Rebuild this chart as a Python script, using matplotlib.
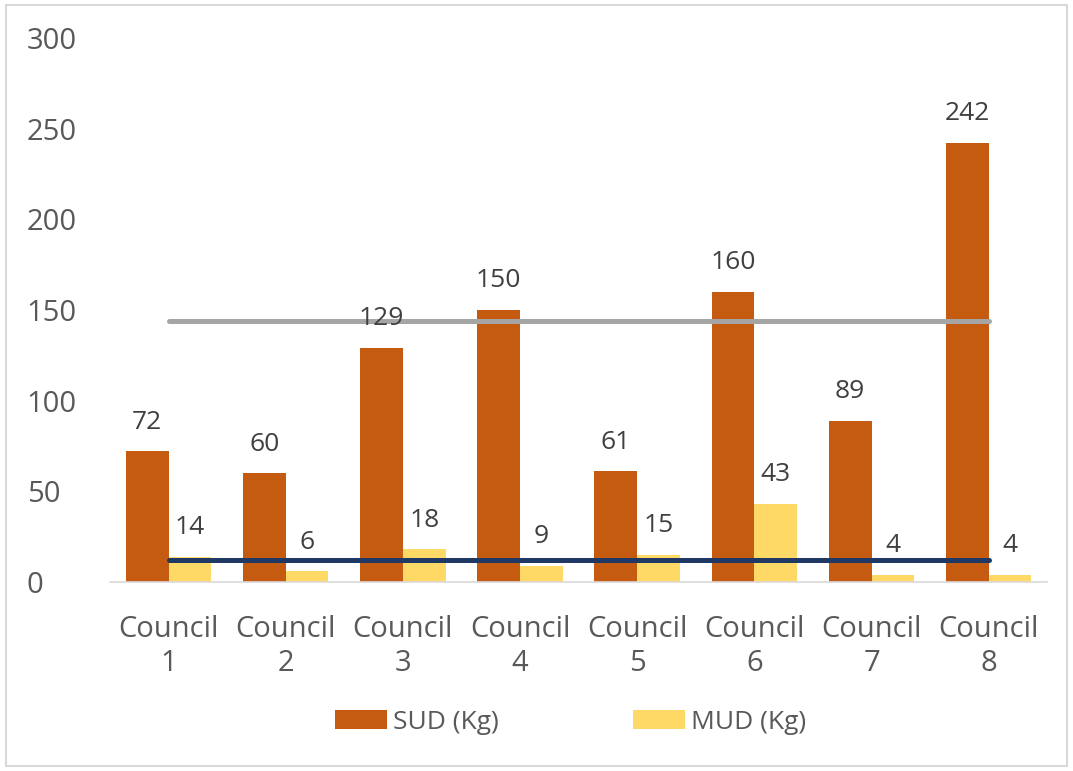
import matplotlib
matplotlib.use("Agg")
import matplotlib.pyplot as plt
from matplotlib.patches import Rectangle
import numpy as np

categories = ["Council\n1", "Council\n2", "Council\n3", "Council\n4",
              "Council\n5", "Council\n6", "Council\n7", "Council\n8"]
sud = [72, 60, 129, 150, 61, 160, 89, 242]
mud = [14, 6, 18, 9, 15, 43, 4, 4]
gray_line = [144] * 8
navy_line = [12] * 8
yticks = [0, 50, 100, 150, 200, 250, 300]

plt.rcParams['font.family'] = ['Open Sans', 'DejaVu Sans']
txt = '#595959'

fig = plt.figure(figsize=(10.73, 7.71), dpi=100)
ax = fig.add_axes([0.1025, 0.245, 0.8735, 0.706])

x = np.arange(len(categories))
w = 0.365
ax.bar(x - w/2, sud, width=w, color='#C55A11', label='SUD (Kg)', zorder=2)
ax.bar(x + w/2, mud, width=w, color='#FFD966', label='MUD (Kg)', zorder=2)
ax.plot(x, gray_line, color='#A5A5A5', lw=3.6, solid_capstyle='round', zorder=3)
ax.plot(x, navy_line, color='#1F3864', lw=3.6, solid_capstyle='round', zorder=3)

for xi, v in zip(x, sud):
    ax.annotate(str(v), (xi - w/2, v), xytext=(0, 12), textcoords='offset points',
                ha='center', va='bottom', fontsize=19, color='#404040', zorder=4)
for xi, v in zip(x, mud):
    ax.annotate(str(v), (xi + w/2, v), xytext=(0, 12), textcoords='offset points',
                ha='center', va='bottom', fontsize=19, color='#404040', zorder=4)

ax.set_xlim(-0.5, 7.5)
ax.set_ylim(0, 300)
ax.set_yticks(yticks)
ax.set_xticks(x)
ax.set_xticklabels(categories, linespacing=1.2)
ax.tick_params(axis='both', length=0, labelsize=21, colors=txt)
ax.tick_params(axis='y', pad=60)
ax.tick_params(axis='x', pad=24)
for lab in ax.get_yticklabels():
    lab.set_horizontalalignment('left')
for s in ['top', 'right', 'left']:
    ax.spines[s].set_visible(False)
ax.spines['bottom'].set_color('#D9D9D9')
ax.spines['bottom'].set_linewidth(1.2)

leg = fig.legend(loc='center', bbox_to_anchor=(0.532, 0.063), ncol=2, frameon=False,
                 fontsize=19, handlelength=1.95, handleheight=0.75, columnspacing=5.1,
                 handletextpad=0.25)
for t in leg.get_texts():
    t.set_color(txt)

fig.patches.append(Rectangle((0.006, 0.006), 0.988, 0.988, transform=fig.transFigure,
                             fill=False, edgecolor='#D9D9D9', lw=1.5))

fig.savefig('out.png', dpi=100)
